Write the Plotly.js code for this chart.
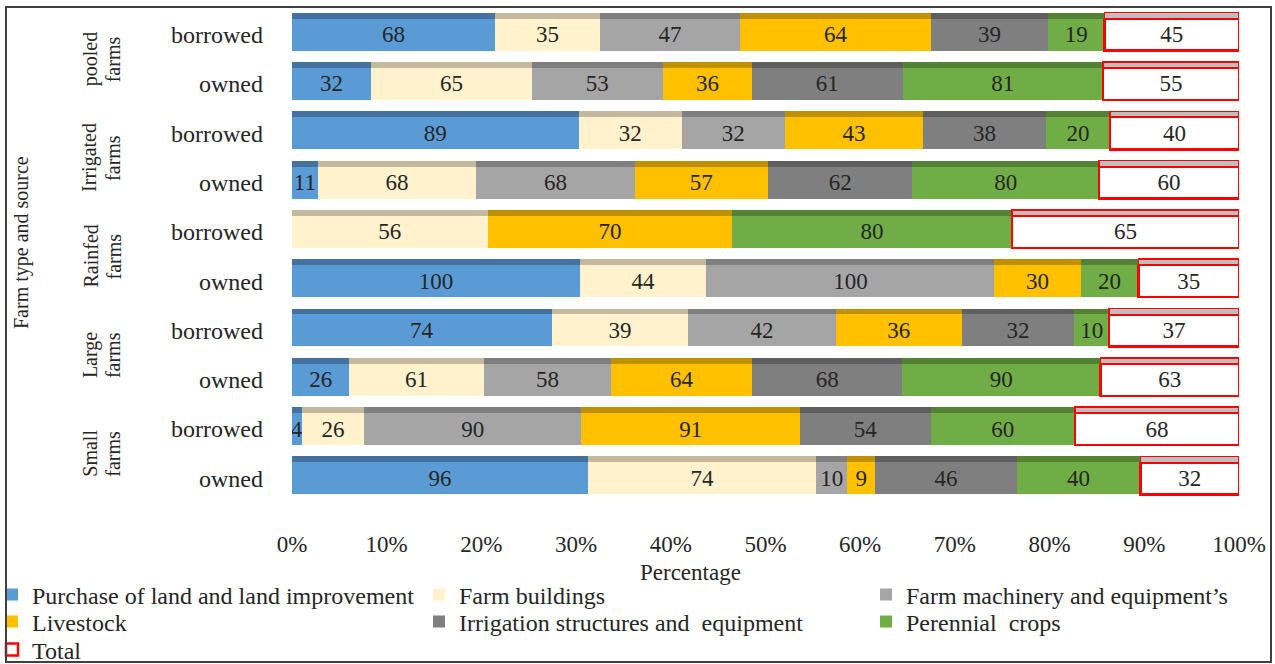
<!DOCTYPE html>
<html>
<head>
<meta charset="utf-8">
<script src="https://cdn.plot.ly/plotly-3.0.1.min.js"></script>
<style>
html,body{margin:0;padding:0;background:#fff;}
#wrap{position:relative;width:1275px;height:664px;}
#chart{width:1275px;height:664px;}
#frame{position:absolute;left:5px;top:6px;width:1263px;height:653px;border:2px solid #404040;pointer-events:none;}
</style>
</head>
<body>
<div id="wrap"><div id="chart"></div><div id="frame"></div></div>
<script>
// rows listed top to bottom
const sources = ['borrowed','owned','borrowed','owned','borrowed','owned','borrowed','owned','borrowed','owned'];
const groups = ['pooled<br>farms','Irrigated<br>farms','Rainfed<br>farms','Large<br>farms','Small<br>farms'];
const xTicks = ['0%','10%','20%','30%','40%','50%','60%','70%','80%','90%','100%'];

const landPurchase = [68,32,89,11,0,100,74,26,4,96];
const farmBuildings = [35,65,32,68,56,44,39,61,26,74];
const machinery    = [47,53,32,68,0,100,42,58,90,10];
const livestock    = [64,36,43,57,70,30,36,64,91,9];
const irrigation   = [39,61,38,62,0,0,32,68,54,46];
const perennial    = [19,81,20,80,80,20,10,90,60,40];
const total        = [45,55,40,60,65,35,37,63,68,32];

const seriesNames = ['Purchase of land and land improvement','Farm buildings','Farm machinery and equipment’s','Livestock','Irrigation structures and  equipment','Perennial  crops','Total'];
const seriesData = [landPurchase, farmBuildings, machinery, livestock, irrigation, perennial, total];
const frontColors = ['#5B9BD5','#FFF2CC','#A5A5A5','#FFC000','#7F7F7F','#70AD47','#FFFFFF'];
const topColors   = ['#4472A0','#C4B99D','#7F7F7F','#BF9000','#5F5F5F','#548235','#BFBFBF'];

const FONT = 'Liberation Serif, Times New Roman, serif';
const INK = '#262626';
const rows = sources.map((s,i)=>i);
const BARW = 0.65, TOPW = 0.12;

// legend placement: 3 columns x 3 rows (row-major), text start px / row centre px
const legendCols = [33, 460, 907];
const legendRows = [595, 622, 650];

const traces = [];
seriesData.forEach((vals, k) => {
  const isTotal = k === 6;
  traces.push({
    type:'bar', orientation:'h', name: seriesNames[k],
    legend: k === 0 ? 'legend' : 'legend' + (k + 1),
    x: vals.map(v => v > 0 ? v : null), y: rows,
    width: BARW,
    marker:{color: frontColors[k], line:{color: isTotal ? '#FF0000' : 'rgba(0,0,0,0)', width: isTotal ? 2.5 : 0}},
    text: vals.map(v => v > 0 ? String(v) : ''),
    textposition:'inside', insidetextanchor:'middle', constraintext:'none', textangle:0,
    textfont:{family: FONT, size: 23, color: INK},
    hoverinfo:'name+x', xaxis:'x', yaxis:'y'
  });
});
// top faces (3D look)
seriesData.forEach((vals, k) => {
  const isTotal = k === 6;
  traces.push({
    type:'bar', orientation:'h', showlegend:false, hoverinfo:'skip',
    x: vals.map(v => v > 0 ? v : null), y: rows,
    width: TOPW, offset: -BARW/2 - TOPW,
    marker:{color: topColors[k], line:{color: isTotal ? '#FF0000' : 'rgba(0,0,0,0)', width: isTotal ? 1.5 : 0}},
    xaxis:'x', yaxis:'y2'
  });
});

const annotations = [];
groups.forEach((g, j) => {
  g.split('<br>').forEach((line, li) => {
    annotations.push({
      text: line, xref:'paper', yref:'y', x: ((li === 0 ? 90 : 113) - 292) / 947, y: 2*j + 0.5,
      xanchor:'center', yanchor:'middle', textangle: -90, showarrow:false,
      font:{family: FONT, size: 20, color: INK}
    });
  });
});
annotations.push({
  text:'Farm type and source', xref:'paper', yref:'paper',
  x: (22 - 292) / 947, y: (503 - 243) / 493, xanchor:'center', yanchor:'middle', textangle:-90, showarrow:false,
  font:{family: FONT, size: 20, color: INK}
});
annotations.push({
  text:'Percentage', xref:'paper', yref:'paper',
  x: (690 - 292) / 947, y: (503 - 572) / 493, xanchor:'center', yanchor:'middle', showarrow:false,
  font:{family: FONT, size: 23, color: INK}
});

const layout = {
  width:1275, height:664,
  margin:{l:292, r:36, t:10, b:161, autoexpand:false},
  paper_bgcolor:'#fff', plot_bgcolor:'#fff',
  barmode:'stack', barnorm:'percent',
  showlegend:true,
  font:{family: FONT, color: INK},
  xaxis:{range:[0,100], tickvals: xTicks.map(t => parseFloat(t)), ticktext: xTicks,
         showgrid:false, zeroline:false, showline:false, ticks:'', automargin:false,
         ticklabelstandoff: 25, tickfont:{family: FONT, size: 23, color: INK}, fixedrange:true},
  yaxis:{range:[9.5,-0.5], tickvals: rows, ticktext: sources, showgrid:false, zeroline:false, showline:false, ticks:'', automargin:false,
         ticklabelstandoff: 28, tickfont:{family: FONT, size: 24, color: INK}, fixedrange:true},
  yaxis2:{range:[9.5,-0.5], overlaying:'y', visible:false, showgrid:false, zeroline:false, fixedrange:true},
  annotations: annotations
};
seriesNames.forEach((n, k) => {
  const key = k === 0 ? 'legend' : 'legend' + (k + 1);
  const col = k % 3, row = Math.floor(k / 3);
  layout[key] = {
    xref:'container', yref:'container',
    x: Math.max(0, legendCols[col] - 41) / 1275, xanchor:'left',
    y: (664 - legendRows[row]) / 664, yanchor:'middle',
    indentation: col === 0 ? -8 : 0,
    itemwidth:30, bgcolor:'rgba(0,0,0,0)', borderwidth:0,
    font:{family: FONT, size: 24, color: INK}
  };
});

Plotly.newPlot('chart', traces, layout, {displayModeBar:false, staticPlot:true});
</script>
</body>
</html>
